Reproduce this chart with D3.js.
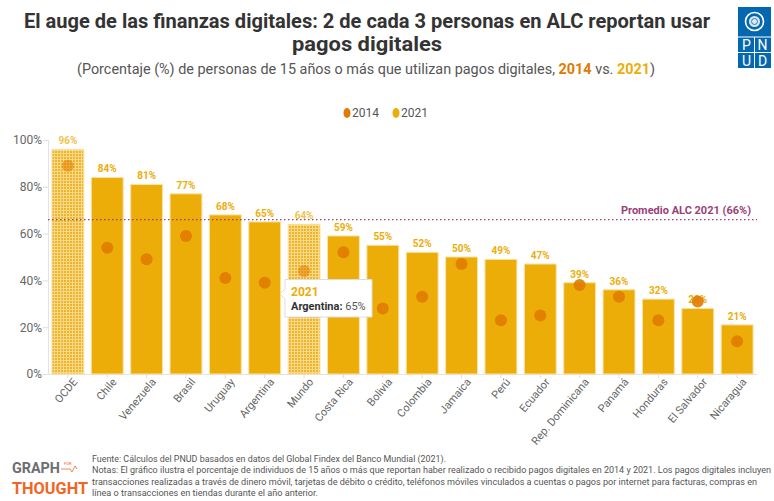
<!DOCTYPE html>
<html><head><meta charset="utf-8">
<script src="https://cdn.jsdelivr.net/npm/d3@7"></script>
<style>body{margin:0;background:#fff;}svg{display:block;font-family:Roboto,"Noto Sans",sans-serif;}</style>
</head><body><svg id="c" width="774" height="501"></svg>
<script>
const categories = ["OCDE","Chile","Venezuela","Brasil","Uruguay","Argentina","Mundo","Costa Rica","Bolivia","Colombia","Jamaica","Perú","Ecuador","Rep. Dominicana","Panamá","Honduras","El Salvador","Nicaragua"];
const values2021 = [96,84,81,77,68,65,64,59,55,52,50,49,47,39,36,32,28,21];
const values2014 = [89,54,49,59,41,39,44,52,28,33,47,23,25,38,33,23,31,14];
const referenceGroups = ["OCDE","Mundo"];
const promedioALC = 66;
const yTicks = [0,20,40,60,80,100];

const svg = d3.select("#c");
const GOLD = "#EDAD08", ORANGE = "#E07B00", PURPLE = "#9B3F78";

const defs = svg.append("defs");
const pat = defs.append("pattern").attr("id","hatch").attr("patternUnits","userSpaceOnUse").attr("width",3).attr("height",3);
pat.append("rect").attr("width",3).attr("height",3).attr("fill","#EFB52A");
pat.append("rect").attr("x",0).attr("y",0).attr("width",3).attr("height",1).attr("fill","#F8D98A");
pat.append("rect").attr("x",0).attr("y",0).attr("width",1).attr("height",3).attr("fill","#F8D98A");

const x = d3.scaleBand().domain(categories).range([48,757]).paddingInner(0.19).paddingOuter(0.1);
const y = d3.scaleLinear().domain([0,100]).range([374,140]);

// Title
const title = svg.append("g").attr("fill","#333").attr("font-weight","bold").attr("font-size",20).attr("text-anchor","middle");
title.append("text").attr("x",367).attr("y",28).attr("textLength",686).attr("lengthAdjust","spacingAndGlyphs").text("El auge de las finanzas digitales: 2 de cada 3 personas en ALC reportan usar");
title.append("text").attr("x",367).attr("y",51).attr("textLength",150).attr("lengthAdjust","spacingAndGlyphs").text("pagos digitales");

const sub = svg.append("text").attr("x",366).attr("y",74).attr("text-anchor","middle").attr("font-size",14).attr("fill","#555")
  .attr("textLength",578).attr("lengthAdjust","spacingAndGlyphs");
sub.append("tspan").text("(Porcentaje (%) de personas de 15 años o más que utilizan pagos digitales, ");
sub.append("tspan").attr("font-weight","bold").attr("fill",ORANGE).text("2014");
sub.append("tspan").text(" vs. ");
sub.append("tspan").attr("font-weight","bold").attr("fill",GOLD).text("2021");
sub.append("tspan").text(")");

// UNDP logo
const lg = svg.append("g");
lg.append("rect").attr("x",738).attr("y",7).attr("width",33).attr("height",61).attr("fill","#0468B1");
lg.append("circle").attr("cx",754.5).attr("cy",21.5).attr("r",9).attr("fill","none").attr("stroke","#fff").attr("stroke-width",1.6);
lg.append("circle").attr("cx",754.5).attr("cy",21.5).attr("r",5.5).attr("fill","#fff").attr("opacity",0.85);
lg.append("circle").attr("cx",754.5).attr("cy",21.5).attr("r",3).attr("fill","none").attr("stroke","#0468B1").attr("stroke-width",0.8);
lg.append("line").attr("x1",738).attr("x2",771).attr("y1",37).attr("y2",37).attr("stroke","#fff").attr("stroke-width",1);
lg.append("line").attr("x1",738).attr("x2",771).attr("y1",52.5).attr("y2",52.5).attr("stroke","#fff").attr("stroke-width",1);
lg.append("line").attr("x1",754.5).attr("x2",754.5).attr("y1",37).attr("y2",68).attr("stroke","#fff").attr("stroke-width",1);
[["P",746.5,50],["N",762.5,50],["U",746.5,66],["D",762.5,66]].forEach(d=>{
  lg.append("text").attr("x",d[1]).attr("y",d[2]).attr("text-anchor","middle").attr("font-size",14).attr("fill","#fff").text(d[0]);
});

// Legend
const leg = svg.append("g").attr("font-size",12).attr("fill","#555");
leg.append("ellipse").attr("cx",347).attr("cy",113).attr("rx",3.5).attr("ry",5).attr("fill",ORANGE);
leg.append("text").attr("x",352).attr("y",117).text("2014");
leg.append("ellipse").attr("cx",396).attr("cy",113).attr("rx",3.5).attr("ry",5).attr("fill",GOLD);
leg.append("text").attr("x",401).attr("y",117).text("2021");

// Axes
const yAxis = svg.append("g").attr("transform","translate(48,0)").call(d3.axisLeft(y).tickValues(yTicks).tickSize(5).tickFormat(d=>d+"%"));
yAxis.select(".domain").attr("stroke","#e3e3e3");
yAxis.selectAll(".tick line").attr("stroke","#ddd");
yAxis.selectAll(".tick text").attr("font-size",12).attr("fill","#666").attr("font-family","Roboto,sans-serif").attr("x",-6);

const xAxis = svg.append("g").attr("transform","translate(0,374)").call(d3.axisBottom(x).tickSize(4).tickSizeOuter(0));
xAxis.select(".domain").attr("stroke","#e3e3e3");
xAxis.selectAll(".tick line").attr("stroke","#ddd");
xAxis.selectAll(".tick text").attr("font-size",11).attr("fill","#666").attr("font-family","Roboto,sans-serif")
  .attr("text-anchor","end").attr("transform","translate(5,4) rotate(-50)").attr("dy","0.6em").attr("y",0).attr("x",0);

// Bars
svg.append("g").selectAll("rect").data(categories).join("rect")
  .attr("x",d=>x(d)).attr("width",x.bandwidth())
  .attr("y",(d,i)=>y(values2021[i])).attr("height",(d,i)=>y(0)-y(values2021[i]))
  .attr("fill",d=>referenceGroups.includes(d)?"url(#hatch)":GOLD)
  .attr("stroke","#F9E2A4").attr("stroke-width",1);

// Average line
svg.append("line").attr("x1",48).attr("x2",757).attr("y1",y(promedioALC)).attr("y2",y(promedioALC))
  .attr("stroke",PURPLE).attr("stroke-width",1.2).attr("stroke-dasharray","1.5,2.5");
svg.append("text").attr("x",751).attr("y",y(promedioALC)-6).attr("text-anchor","end").attr("font-size",11)
  .attr("font-weight","bold").attr("fill",PURPLE).text("Promedio ALC 2021 (66%)");

// Bar labels
svg.append("g").selectAll("text").data(categories).join("text")
  .attr("x",d=>x(d)+x.bandwidth()/2).attr("y",(d,i)=>y(values2021[i])-5)
  .attr("text-anchor","middle").attr("font-size",10).attr("font-weight","bold")
  .attr("fill",d=>referenceGroups.includes(d)?"#F3C24A":GOLD).text((d,i)=>values2021[i]+"%");

// Dots 2014
svg.append("g").selectAll("circle").data(categories).join("circle")
  .attr("cx",d=>x(d)+x.bandwidth()/2).attr("cy",(d,i)=>y(values2014[i])).attr("r",6)
  .attr("fill",ORANGE).attr("opacity",d=>referenceGroups.includes(d)?0.55:0.9);

// Tooltip
const tt = svg.append("g");
tt.append("path").attr("d","M285,279.5 H372 V317 H285 V299 L280,294 L285,289 Z").attr("fill","#fff").attr("stroke","#ddd").attr("stroke-width",1);
tt.append("text").attr("x",291).attr("y",296).attr("font-size",12).attr("font-weight","bold").attr("fill",GOLD).text("2021");
const tl = tt.append("text").attr("x",291).attr("y",310).attr("font-size",11).attr("fill","#555");
tl.append("tspan").attr("font-weight","bold").attr("fill","#333").text("Argentina:");
tl.append("tspan").text(" 65%");

// Graph for Thought logo
const gt = svg.append("g").attr("font-weight","bold");
gt.append("text").attr("x",12).attr("y",473).attr("font-size",14).attr("fill","#6d6e70").attr("textLength",48).attr("lengthAdjust","spacingAndGlyphs").text("GRAPH");
gt.append("text").attr("x",64).attr("y",465).attr("font-size",4).attr("fill","#F26522").attr("font-weight","normal").text("FOR");
gt.append("path").attr("d","M61,469 H70 L72,472 L75,466 L77,469").attr("fill","none").attr("stroke","#F26522").attr("stroke-width",0.8);
gt.append("text").attr("x",12).attr("y",494).attr("font-size",17).attr("fill","#F26522").attr("textLength",76).attr("lengthAdjust","spacingAndGlyphs").text("THOUGHT");

// Footer
const foot = [
  ["Fuente: Cálculos del PNUD basados en datos del Global Findex del Banco Mundial (2021).",354],
  ["Notas: El gráfico ilustra el porcentaje de individuos de 15 años o más que reportan haber realizado o recibido pagos digitales en 2014 y 2021. Los pagos digitales incluyen",679],
  ["transacciones realizadas a través de dinero móvil, tarjetas de débito o crédito, teléfonos móviles vinculados a cuentas o pagos por internet para facturas, compras en",665],
  ["línea o transacciones en tiendas durante el año anterior.",226]
];
svg.append("g").selectAll("text").data(foot).join("text")
  .attr("x",92).attr("y",(d,i)=>462+i*11.3).attr("font-size",9).attr("fill","#555")
  .attr("textLength",d=>d[1]).attr("lengthAdjust","spacingAndGlyphs").text(d=>d[0]);
</script></body></html>
